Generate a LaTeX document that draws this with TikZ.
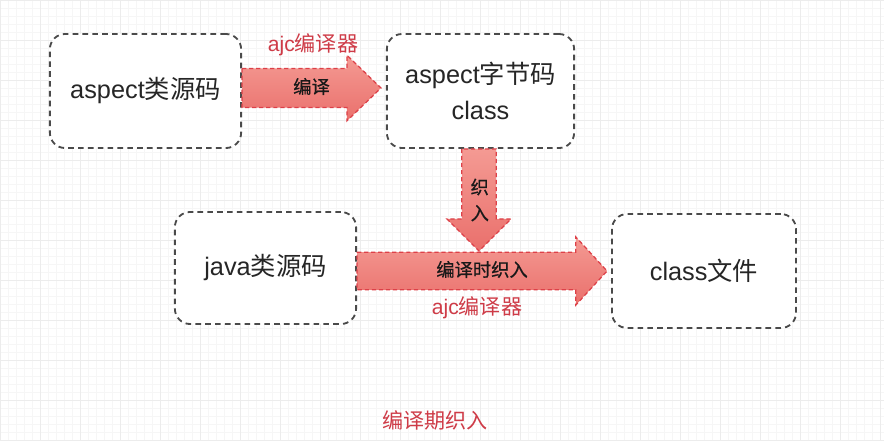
\documentclass[tikz,border=0pt]{standalone}
\usepackage{fontspec}
\setmainfont{Liberation Sans}
\newfontfamily\cjk{Noto Sans CJK SC}
\newfontfamily\cjkmed{Noto Sans CJK SC}[FakeBold=0.6]
\usepackage{xcolor}
\usepackage{tikz}
\usetikzlibrary{arrows.meta,positioning,calc}
\definecolor{boxline}{HTML}{4A4A4A}
\definecolor{arrowline}{HTML}{DD4048}
\definecolor{arrowtop}{HTML}{F49A93}
\definecolor{arrowbot}{HTML}{EA706C}
\definecolor{labelred}{HTML}{CE3B47}
\definecolor{gridminor}{HTML}{F6F6F6}
\definecolor{gridmajor}{HTML}{ECECEC}

\tikzset{
  codebox/.style={draw=boxline, line width=1.3pt, dash pattern=on 4pt off 3pt,
    rounded corners=0.38cm, fill=white, align=center, text=black!85,
    font=\fontsize{18}{26}\selectfont, inner sep=0pt},
  blockarrow/.style={draw=arrowline, line width=0.9pt, dash pattern=on 3pt off 2pt,
    top color=arrowtop, bottom color=arrowbot},
  arrowlabel/.style={font=\cjkmed\fontsize{13}{18.5}\selectfont, text=black!90, align=center},
  redlabel/.style={font=\fontsize{15}{18}\selectfont, text=labelred}
}

\begin{document}
\begin{tikzpicture}[x=0.025cm, y=-0.025cm]
\useasboundingbox (0,0) rectangle (884,441);
% faint grid paper
\draw[gridminor, step=0.2cm] (0,0) grid (884,441);
\draw[gridmajor, step=1cm] (0,0) grid (884,441);

% boxes
\node[codebox, minimum width=4.78cm, minimum height=2.85cm] (aspectsrc) at (145.5,91) {aspect{\cjk 类源码}};
\node[codebox, minimum width=4.68cm, minimum height=2.85cm] (bytecode) at (480.5,91) {aspect{\cjk 字节码}\\class};
\node[codebox, minimum width=4.53cm, minimum height=2.8cm] (javasrc) at (265.5,268) {java{\cjk 类源码}};
\node[codebox, minimum width=4.6cm, minimum height=2.85cm] (classfile) at (704,271) {class{\cjk 文件}};

\coordinate (compiletip) at ($(bytecode.west)+(-5,-3)$);
\coordinate (weavetip) at (479,251);
\coordinate (finaltip) at ($(classfile.west)+(-4,0)$);

% compile arrow
\draw[blockarrow] let \p1=($(aspectsrc.east)+(0,-3)$), \p2=(compiletip) in
  (\x1,\y2+0.49cm) -- (\x2-0.85cm,\y2+0.49cm) -- (\x2-0.85cm,\y2+0.82cm) -- (\x2,\y2)
  -- (\x2-0.85cm,\y2-0.82cm) -- (\x2-0.85cm,\y2-0.49cm) -- (\x1,\y2-0.49cm) -- cycle;
\node[arrowlabel] (compilelbl) at ($(aspectsrc.east)!0.5!(compiletip)+(0,-3)$) {编译};
\node[redlabel] (ajctop) at (313,45) {ajc{\cjk 编译器}};

% weave-at-compile arrow
\draw[blockarrow] let \p1=(javasrc.east), \p2=(finaltip) in
  (\x1,\y2+0.47cm) -- (\x2-0.78cm,\y2+0.47cm) -- (\x2-0.78cm,\y2+0.85cm) -- (\x2,\y2)
  -- (\x2-0.78cm,\y2-0.85cm) -- (\x2-0.78cm,\y2-0.47cm) -- (\x1,\y2-0.47cm) -- cycle;
\node[arrowlabel] (weavelbl) at ($(javasrc.east)!0.5!(finaltip)$) {编译时织入};
\node[redlabel] (ajcbottom) at (477,308) {ajc{\cjk 编译器}};

% weave arrow
\draw[blockarrow] let \p1=(bytecode.south), \p2=(weavetip) in
  (\x2-0.43cm,\y1) -- (\x2-0.43cm,\y2+0.8cm) -- (\x2-0.8cm,\y2+0.8cm) -- (\x2,\y2)
  -- (\x2+0.8cm,\y2+0.8cm) -- (\x2+0.43cm,\y2+0.8cm) -- (\x2+0.43cm,\y1) -- cycle;
\node[arrowlabel] (weavein) at ($(bytecode.south)!0.5!(weavetip)$) {织\\入};

\node[redlabel, font=\cjk\fontsize{15}{18}\selectfont] (caption) at (435,420) {编译期织入};
\end{tikzpicture}
\end{document}
